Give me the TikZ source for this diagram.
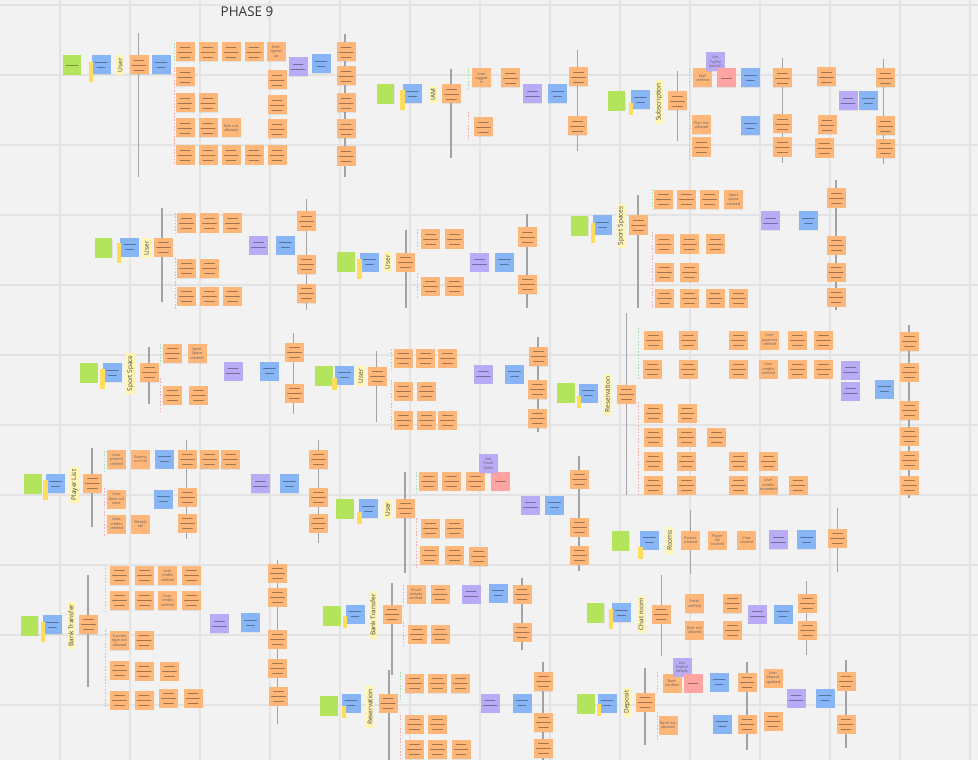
\documentclass[tikz,border=0pt]{standalone}
\usepackage{fontspec}
\setmainfont{Open Sans}
\usetikzlibrary{shadows}
\definecolor{cbg}{HTML}{F2F2F2}
\definecolor{cgrid}{HTML}{E3E3E3}
\definecolor{cevt}{HTML}{FFB679}
\definecolor{ccmd}{HTML}{87B5F5}
\definecolor{cpol}{HTML}{BAABF7}
\definecolor{cgrn}{HTML}{B4E35C}
\definecolor{chot}{HTML}{FFA3A3}
\definecolor{ctag}{HTML}{FFDD5C}
\definecolor{cctx}{HTML}{FFF5B5}
\definecolor{csep}{HTML}{A3A3A3}
\definecolor{cok}{HTML}{A9DEB0}
\definecolor{cno}{HTML}{F5AFAF}

\begin{document}
\begin{tikzpicture}[x=0.03cm, y=-0.03cm,
  stk/.style={rectangle, inner sep=0pt, minimum width=0.57cm, minimum height=0.57cm,
    drop shadow={shadow xshift=0.3pt, shadow yshift=-0.7pt, opacity=0.15}},
  scr/.style={line width=0.75pt, black, opacity=0.36, line cap=round},
  evt/.style={stk, fill=cevt, path picture={
    \draw[scr] ([shift={(-5,-5)}]path picture bounding box.center) -- ++(10,0);
    \draw[scr] ([shift={(-7,0)}]path picture bounding box.center) -- ++(14,0);
    \draw[scr] ([shift={(-5,5)}]path picture bounding box.center) -- ++(10,0);}},
  evtx/.style={stk, fill=cevt, align=center, text width=0.52cm, text=black!62,
    font=\fontsize{3.2}{3.7}\selectfont},
  cmd/.style={stk, fill=ccmd, path picture={
    \draw[scr] ([shift={(-6,-2.5)}]path picture bounding box.center) -- ++(12,0);
    \draw[scr] ([shift={(-4,2.5)}]path picture bounding box.center) -- ++(8,0);}},
  pol/.style={stk, fill=cpol, path picture={
    \draw[scr] ([shift={(-5,-2.5)}]path picture bounding box.center) -- ++(10,0);
    \draw[scr] ([shift={(-7,2.5)}]path picture bounding box.center) -- ++(14,0);}},
  polx/.style={stk, fill=cpol, align=center, text width=0.52cm, text=black!62,
    font=\fontsize{3.2}{3.7}\selectfont},
  hot/.style={stk, fill=chot, path picture={
    \draw[scr] ([shift={(-5,0)}]path picture bounding box.center) -- ++(10,0);}},
  grn/.style={stk, fill=cgrn, minimum width=0.53cm, minimum height=0.58cm},
  tag/.style={rectangle, fill=ctag, inner sep=0pt, minimum width=0.13cm, minimum height=0.6cm},
  tagsh/.style={tag, minimum height=0.36cm},
  ctx/.style={rectangle, fill=cctx, rotate=90, inner xsep=2.5pt, inner ysep=0.6pt,
    minimum height=0.25cm, text=black!75, font=\fontsize{5.5}{6}\selectfont},
  sep/.style={csep, line width=1.1pt},
  ok/.style={cok, line width=0.8pt, dash pattern=on 1.4pt off 1.4pt},
  no/.style={cno, line width=0.8pt, dash pattern=on 1.4pt off 1.4pt},
  grid/.style={cgrid, line width=1.1pt}]

\fill[cbg] (0,0) rectangle (978,760);
\useasboundingbox (0,0) rectangle (978,760);
\foreach \x in {60,130,...,970}{\draw[grid] (\x,0) -- (\x,760);}
\foreach \y in {5,75,...,705}{\draw[grid] (0,\y) -- (978,\y);}

\node[font=\fontsize{11.5}{13}\selectfont, text=black!80] (title) at (247,11.5) {PHASE 9};

%% ── User (top left) ───────────────────────────────────────
\draw[sep] (138.5,33) -- (138.5,177);
\draw[sep] (345,34) -- (345,177);
\draw[ok] (174,43) -- (174,62);
\draw[no] (174,67) -- (174,164);
\node[grn, path picture={\draw[scr] ([shift={(-6,0)}]path picture bounding box.center) -- ++(12,0);}] at (72,65) {};
\foreach \x/\y in {101/65, 161/65, 321/64}{\node[cmd] at (\x,\y) {};}
\node[tag] at (91,72) {};
\node[ctx] (ctx-user1) at (120,65) {User};
\foreach \x/\y in {139/65, 185/52, 208/52, 231/52, 254/52, 185/77, 277/80, 185/103, 208/103, 277/105,
  185/128, 208/128, 277/129, 185/155, 208/155, 231/155, 254/155, 277/155,
  346/52, 346/76, 346/103, 346/129, 346/156}{\node[evt] at (\x,\y) {};}
\node[evtx] at (276,52) {User\\signed up};
\node[evtx] at (231,128) {Role not\\allowed};
\node[pol] at (298,67) {};

%% ── IAM ──────────────────────────────────────────────────
\draw[sep] (451,69) -- (451,158);
\draw[sep] (577.5,50) -- (577.5,151);
\draw[ok] (468,68) -- (468,88);
\draw[no] (468,112) -- (468,139);
\node[grn] at (385.5,94) {};
\foreach \x/\y in {412.5/94, 557.5/94}{\node[cmd] at (\x,\y) {};}
\node[tag] at (402.5,100) {};
\node[ctx] (ctx-iam) at (433,94.5) {IAM};
\foreach \x/\y in {451.5/94, 510.5/78, 483.5/127, 578.5/77, 577.5/126}{\node[evt] at (\x,\y) {};}
\node[evtx] at (481.5,78) {User\\logged\\in};
\node[pol] at (532.5,94) {};

%% ── Subscription ─────────────────────────────────────────
\draw[sep] (677.7,71) -- (677.7,141);
\draw[sep] (782.7,58) -- (782.7,163);
\draw[sep] (883.7,59) -- (883.7,164);
\draw[ok] (689,68) -- (689,88);
\draw[no] (689,112) -- (689,158);
\node[grn] at (616.5,101) {};
\foreach \x/\y in {640.5/99.5, 750.5/78, 750.5/126, 868.5/101}{\node[cmd] at (\x,\y) {};}
\node[tagsh] at (631,109) {};
\node[ctx] (ctx-sub) at (659,102) {Subscription};
\foreach \x/\y in {677.5/101, 701.5/147, 782.5/78, 782.5/124, 782.5/147, 826.5/77, 827/125, 824.5/148,
  885.5/78, 885.5/126, 885.5/148.5}{\node[evt] at (\x,\y) {};}
\node[evtx] at (702.5,78) {Mail\\verified};
\node[evtx] at (701.5,125) {Plan not\\allowed};
\node[polx] at (715.5,62) {Get\\PayPal\\details?};
\node[hot] at (726.5,78) {};
\node[pol] at (848,101) {};

%% ── User (row 2, left) ───────────────────────────────────
\draw[sep] (162,208) -- (162,302);
\draw[sep] (306.7,199) -- (306.7,310);
\draw[ok] (175,213) -- (175,233);
\draw[no] (175,258) -- (175,310);
\node[grn] at (103.5,248) {};
\foreach \x/\y in {129.5/247, 285.5/245}{\node[cmd] at (\x,\y) {};}
\node[tag] at (119,253) {};
\node[ctx] (ctx-user2) at (146.5,248) {User};
\foreach \x/\y in {163.5/247, 186.5/223, 209.5/223, 232.5/223, 186.5/268.5, 209.5/268.5,
  186.5/296, 209.5/296, 232.5/296, 306.5/221, 306.5/264.5, 306.5/293.5}{\node[evt] at (\x,\y) {};}
\node[pol] at (258.5,245) {};

%% ── User (row 2, middle) ─────────────────────────────────
\draw[sep] (406,230) -- (406,308);
\draw[sep] (527,214) -- (527,308);
\draw[ok] (417,229) -- (417,249);
\draw[no] (417,273) -- (417,299);
\node[grn] at (346,262) {};
\foreach \x/\y in {369.5/262, 504.5/262}{\node[cmd] at (\x,\y) {};}
\node[tag] at (359.5,269) {};
\node[ctx] (ctx-user3) at (387.5,262) {User};
\foreach \x/\y in {405.5/262, 430.5/239, 454.5/239, 430.5/286, 454.5/286, 527.5/237, 527.5/284.5}
  {\node[evt] at (\x,\y) {};}
\node[pol] at (479.5,262) {};

%% ── Sport Spaces ─────────────────────────────────────────
\draw[sep] (638,195) -- (638,308);
\draw[sep] (836,180) -- (836,310);
\draw[ok] (652,189) -- (652,209);
\draw[no] (652,232) -- (652,308);
\node[grn] at (579.5,226) {};
\foreach \x/\y in {602.5/225, 808.5/220.5}{\node[cmd] at (\x,\y) {};}
\node[tag] at (593,233) {};
\node[ctx] (ctx-spaces) at (621,226) {Sport Spaces};
\foreach \x/\y in {638.5/225, 663.5/199.5, 686.5/199.5, 709.5/199.5, 664/244, 689.5/244, 715.5/244,
  664.5/272, 689.5/272.5, 664.5/298, 689.5/298, 715/298, 738.5/298,
  836.5/198, 836.5/245, 836/272, 836/297}{\node[evt] at (\x,\y) {};}
\node[evtx] at (733.5,199.5) {Sport\\space\\created};
\node[pol] at (770.5,220.5) {};

%% ── Sport Space ──────────────────────────────────────────
\draw[sep] (149,347) -- (149,404);
\draw[sep] (293.7,333) -- (293.7,414);
\draw[ok] (160,344) -- (160,364);
\draw[no] (160,378) -- (160,414);
\node[grn] at (89,373) {};
\foreach \x/\y in {112.5/372.5, 269.5/371}{\node[cmd] at (\x,\y) {};}
\node[tag] at (102.5,379) {};
\node[ctx] (ctx-space) at (130.5,373.5) {Sport Space};
\foreach \x/\y in {149.5/372.5, 172.5/353.5, 172.5/395, 198.5/395, 294.5/352, 294.5/393}
  {\node[evt] at (\x,\y) {};}
\node[evtx] at (197,353.5) {Sport\\Space\\created};
\node[pol] at (233,371) {};

%% ── User (row 3, middle) ─────────────────────────────────
\draw[sep] (376.7,351) -- (376.7,422);
\draw[sep] (538,337) -- (538,432);
\draw[ok] (391.7,349) -- (391.7,369);
\draw[no] (391.7,380) -- (391.7,430);
\node[grn] at (324,376) {};
\foreach \x/\y in {344.5/375, 514.5/374}{\node[cmd] at (\x,\y) {};}
\node[tagsh] at (334.5,384) {};
\node[ctx] (ctx-user4) at (360.5,376) {User};
\foreach \x/\y in {377.5/376, 403.5/358, 425.5/358, 447.5/358, 403.5/391, 426.5/391,
  403.5/420, 426.5/420, 447.5/420, 538.5/356.5, 537.5/389.5, 537.5/418.5}{\node[evt] at (\x,\y) {};}
\node[pol] at (483.5,374) {};

%% ── Reservation (right) ──────────────────────────────────
\draw[sep] (626.7,313) -- (626.7,495);
\draw[sep] (909,325) -- (909,498);
\draw[ok] (638,328) -- (638,380);
\draw[no] (638,402) -- (638,495);
\node[grn] at (566,393) {};
\foreach \x/\y in {588.5/393, 884.5/389}{\node[cmd] at (\x,\y) {};}
\node[tagsh] at (579,402) {};
\node[ctx] (ctx-res1) at (607.5,394.5) {Reservation};
\foreach \x/\y in {626.5/394, 653.5/340, 688.5/340, 738.5/340, 797.5/340, 823.5/340,
  652.5/369, 688.5/369, 738.5/369, 797.5/369, 823.5/369, 653.5/413, 687/413,
  653.5/437, 686.5/437, 716.5/437, 653.5/461, 686.5/461, 738.5/461, 768.5/461,
  653.5/485, 686.5/485, 738.5/485, 798/485,
  909.5/341.5, 909.5/372, 909.5/410.5, 909.5/436, 909.5/460, 909.5/485}{\node[evt] at (\x,\y) {};}
\node[evtx] at (769.5,340) {User\\payment\\verified};
\node[evtx] at (768.5,369) {User\\credits\\verified};
\node[evtx] at (768.5,485) {User\\credits\\exceeded};
\foreach \x/\y in {850.5/370, 850.5/391}{\node[pol] at (\x,\y) {};}

%% ── Player List ──────────────────────────────────────────
\draw[sep] (92,448) -- (92,527);
\draw[sep] (186.7,440) -- (186.7,539);
\draw[sep] (318.7,440) -- (318.7,543);
\draw[ok] (104,451) -- (104,471);
\draw[no] (104,488) -- (104,536);
\node[grn] at (33,484) {};
\foreach \x/\y in {55.5/483.5, 164.5/459, 163.5/499, 289.5/483.5}{\node[cmd] at (\x,\y) {};}
\node[tag] at (45.5,490) {};
\node[ctx] (ctx-players) at (74.5,485) {Player List};
\foreach \x/\y in {92.5/483.5, 187.5/459, 209.5/459.5, 230.5/459.5, 187.5/497, 187.5/523,
  318.5/459.5, 318.5/497, 318.5/523}{\node[evt] at (\x,\y) {};}
\node[evtx] at (116.5,459.5) {User\\present\\verified};
\node[evtx] at (140.5,459.5) {Rooms\\not full};
\node[evtx] at (116.5,499) {User\\does not\\exist};
\node[evtx] at (116.5,524) {User\\credits\\verified};
\node[evtx] at (140.5,524) {Weekly\\full};
\node[pol] at (260.5,483.5) {};

%% ── User (row 4, middle) ─────────────────────────────────
\draw[sep] (405,472) -- (405,573);
\draw[sep] (579,456) -- (579,571);
\draw[ok] (416.7,472) -- (416.7,492);
\draw[no] (416.7,518) -- (416.7,568);
\node[grn] at (345,509) {};
\foreach \x/\y in {368.5/508.5, 554.5/505}{\node[cmd] at (\x,\y) {};}
\node[tagsh] at (359.5,517.5) {};
\node[ctx] (ctx-user5) at (387.5,509.5) {User};
\foreach \x/\y in {405.5/508.5, 428.5/481, 451.5/481, 475.5/481, 430.5/528.5, 454.5/528.5,
  429.5/555, 454.5/555, 478.5/556.5, 579.5/479, 579.5/527, 579.5/555}{\node[evt] at (\x,\y) {};}
\node[hot] at (500.5,481) {};
\node[polx] at (488.5,463.5) {Get\\Email\\Verifs};
\node[pol] at (530.5,505) {};

%% ── Rooms ────────────────────────────────────────────────
\draw[sep] (690.7,510) -- (690.7,574);
\draw[sep] (837.7,508) -- (837.7,572);
\node[grn] at (620.5,541) {};
\foreach \x/\y in {649.5/540, 806.5/539.5}{\node[cmd] at (\x,\y) {};}
\node[tagsh] at (640.5,553) {};
\node[ctx] (ctx-rooms) at (669.5,540.5) {Rooms};
\node[evtx] at (690.5,540) {Rooms\\created};
\node[evtx] at (717.5,540) {Player\\list\\created};
\node[evtx] at (746.5,540) {Chat\\created};
\node[pol] at (778.5,539.5) {};
\node[evt] at (837.5,538) {};

%% ── Chat room ────────────────────────────────────────────
\draw[sep] (661.7,575) -- (661.7,656);
\draw[sep] (806.7,581) -- (806.7,655);
\node[grn] at (595.5,613) {};
\foreach \x/\y in {621.5/612.5, 783/614}{\node[cmd] at (\x,\y) {};}
\node[tag] at (611,619) {};
\node[ctx] (ctx-chat) at (641,614.5) {Chat room};
\foreach \x/\y in {661/614, 732.5/603.5, 732.5/630, 807.5/603, 807.5/630}{\node[evt] at (\x,\y) {};}
\node[evtx] at (694.5,603.5) {Email\\verified};
\node[evtx] at (694.5,630) {Role not\\allowed};
\node[pol] at (757.5,614) {};

%% ── Bank Transfer (left) ─────────────────────────────────
\draw[sep] (88,575) -- (88,687);
\draw[sep] (277.7,560) -- (277.7,724);
\draw[ok] (105,565) -- (105,612);
\draw[no] (105,630) -- (105,708);
\node[grn] at (29.5,626) {};
\foreach \x/\y in {52.5/624.5, 250.5/622.5}{\node[cmd] at (\x,\y) {};}
\node[tag] at (43,632) {};
\node[ctx] (ctx-bank1) at (71,625.5) {Bank Transfer};
\foreach \x/\y in {88.5/624.5, 119.5/575.5, 144.5/575.5, 191.5/575.5, 119.5/600.5, 144.5/600.5, 191.5/600.5,
  144/640, 119.5/670, 144/671, 169.5/671, 119.5/700, 144/700, 168.5/698, 193/698,
  277.5/573, 277.5/597, 277.5/639, 277.5/668, 278.5/696}{\node[evt] at (\x,\y) {};}
\node[evtx] at (167.5,575.5) {User\\credits\\verified};
\node[evtx] at (167.5,600.5) {User\\credits\\verified};
\node[evtx] at (119.5,640.5) {Transfer\\type not\\allowed};
\node[pol] at (219.5,623.5) {};

%% ── Bank Transfer (middle) ───────────────────────────────
\draw[sep] (392,583) -- (392,675);
\draw[sep] (522,578) -- (522,650);
\draw[ok] (403,585) -- (403,606);
\draw[no] (403,622) -- (403,645);
\node[grn] at (332,616) {};
\foreach \x/\y in {355/614, 498/593}{\node[cmd] at (\x,\y) {};}
\node[tagsh] at (345,622) {};
\node[ctx] (ctx-bank2) at (373,615) {Bank Transfer};
\foreach \x/\y in {392/614, 440/594, 417/634, 440/634, 522/594, 522/632}{\node[evt] at (\x,\y) {};}
\node[evtx] at (416,594) {Email\\already\\verified};
\node[pol] at (471,594) {};

%% ── Reservation (bottom) ─────────────────────────────────
\draw[sep] (389,670) -- (389,760);
\draw[sep] (543,662) -- (543,760);
\draw[ok] (400,672) -- (400,700);
\draw[no] (400,715) -- (400,760);
\node[grn] at (329,706) {};
\foreach \x/\y in {351/703, 522/703}{\node[cmd] at (\x,\y) {};}
\node[tagsh] at (344,712) {};
\node[ctx] (ctx-res2) at (370,707) {Reservation};
\foreach \x/\y in {388/703, 414.5/683.5, 437.5/683.5, 460.5/683.5, 414.5/724, 437.5/724,
  414.5/749.5, 437.5/749.5, 461/749.5, 543.5/681.5, 543.5/722.5, 543.5/748.5}{\node[evt] at (\x,\y) {};}
\node[pol] at (490,703) {};

%% ── Deposit ──────────────────────────────────────────────
\draw[sep] (645,668) -- (645,745);
\draw[sep] (747,662) -- (747,750);
\draw[sep] (846,660) -- (846,748);
\draw[ok] (657,672) -- (657,692);
\draw[no] (657,712) -- (657,740);
\node[grn] at (586,704) {};
\foreach \x/\y in {607/703, 719/682, 722/724, 825/698}{\node[cmd] at (\x,\y) {};}
\node[tagsh] at (599,710) {};
\node[ctx] (ctx-deposit) at (627,702) {Deposit};
\foreach \x/\y in {645/702, 747/682, 747/724, 773/721, 846/681, 846/724}{\node[evt] at (\x,\y) {};}
\node[evtx] at (672,683) {Bank\\verified};
\node[evtx] at (668,725) {Bank not\\allowed};
\node[evtx] at (773,678) {User\\deposit\\updated};
\node[polx] at (682,667) {Get\\PayPal\\details};
\node[hot] at (693,683) {};
\node[pol] at (796,698) {};
\end{tikzpicture}
\end{document}
